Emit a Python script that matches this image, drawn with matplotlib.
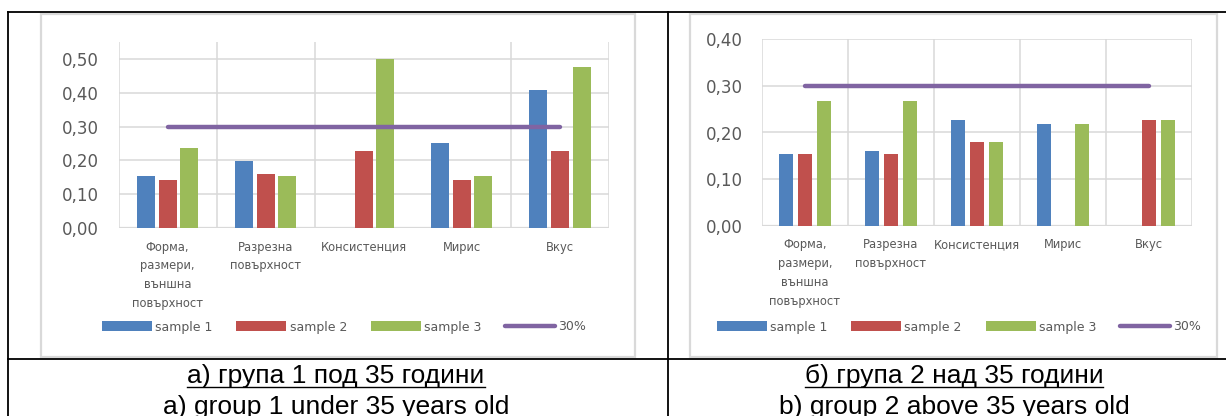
import numpy as np
import matplotlib
matplotlib.use("Agg")
import matplotlib.pyplot as plt
from matplotlib.patches import Rectangle
from matplotlib.lines import Line2D

W, H = 1226, 416

# категории и стойности
categories = ["Форма,\nразмери,\nвъншна\nповърхност", "Разрезна\nповърхност",
              "Консистенция", "Мирис", "Вкус"]
series_names = ["sample 1", "sample 2", "sample 3"]
threshold = 0.30

g1_sample1 = [0.154, 0.198, 0.0, 0.251, 0.408]
g1_sample2 = [0.142, 0.160, 0.228, 0.142, 0.228]
g1_sample3 = [0.237, 0.154, 0.500, 0.154, 0.476]

g2_sample1 = [0.154, 0.160, 0.227, 0.218, 0.0]
g2_sample2 = [0.154, 0.154, 0.180, 0.0, 0.227]
g2_sample3 = [0.267, 0.267, 0.180, 0.218, 0.227]

captions_bg = ["а) група 1 под 35 години", "б) група 2 над 35 години"]
captions_en = ["a) group 1 under 35 years old", "b) group 2 above 35 years old"]

colors = ["#4F81BD", "#C0504D", "#9BBB59"]
purple = "#8064A2"
grid_c = "#D9D9D9"
txt_c = "#595959"


def px(x0, y0, x1, y1):
    return [x0 / W, 1 - y1 / H, (x1 - x0) / W, (y1 - y0) / H]


def draw_chart(ax, data, ymax, yticks, bw, off, skip_vlines=()):
    x = np.arange(len(categories))
    for i, vals in enumerate(data):
        ax.bar(x + (i - 1) * off, vals, bw, color=colors[i], label=series_names[i], zorder=3)
    ax.plot([x[0], x[-1]], [threshold] * 2, color=purple, lw=3.2,
            solid_capstyle="round", label="30%", zorder=4)
    ax.set_xlim(-0.5, len(categories) - 0.5)
    ax.set_ylim(0, ymax)
    ax.set_yticks(yticks)
    ax.set_yticklabels([f"{t:.2f}".replace(".", ",") for t in yticks],
                       fontsize=12, color=txt_c)
    ax.set_xticks(x)
    ax.set_xticklabels(categories, fontsize=8.3, color=txt_c, linespacing=1.6,
                       va="top")
    ax.tick_params(length=0, axis="both")
    ax.tick_params(axis="x", pad=9)
    ax.tick_params(axis="y", pad=14)
    for t in yticks:
        ax.axhline(t, color=grid_c, lw=1.1, zorder=1)
    for b in np.arange(-0.5, len(categories)):
        if b in skip_vlines:
            continue
        ax.axvline(b, color=grid_c, lw=1.1, zorder=1)
    for s in ax.spines.values():
        s.set_visible(False)
    ax.axhline(0, color=grid_c, lw=1.6, zorder=2)


fig = plt.figure(figsize=(W / 100, H / 100), dpi=100)
plt.rcParams["font.family"] = ["DejaVu Sans"]

# рамки на диаграмите
fig.patches.append(Rectangle((41 / W, 1 - 357 / H), (635 - 41) / W, (357 - 14) / H,
                             transform=fig.transFigure, fill=False, ec=grid_c, lw=1.6))
fig.patches.append(Rectangle((690 / W, 1 - 357 / H), (1217 - 690) / W, (357 - 14) / H,
                             transform=fig.transFigure, fill=False, ec=grid_c, lw=1.6))

ax1 = fig.add_axes(px(118.5, 42, 609, 228))
draw_chart(ax1, [g1_sample1, g1_sample2, g1_sample3], 0.55,
           [0.0, 0.1, 0.2, 0.3, 0.4, 0.5], 0.184, 0.22, skip_vlines=(2.5,))

ax2 = fig.add_axes(px(762, 39, 1192, 226))
draw_chart(ax2, [g2_sample1, g2_sample2, g2_sample3], 0.40,
           [0.0, 0.1, 0.2, 0.3, 0.4], 0.17, 0.22)

# легенди
for ax, cx in [(ax1, 344 / W), (ax2, 959 / W)]:
    h, l = ax.get_legend_handles_labels()
    order = [1, 2, 3, 0]
    leg = fig.legend([h[i] for i in order], [l[i] for i in order], loc="center",
                     bbox_to_anchor=(cx, 1 - 327 / H), ncol=4, frameon=False,
                     fontsize=9, handlelength=4.0, handleheight=0.8,
                     handletextpad=0.25, columnspacing=1.9)
    for t in leg.get_texts():
        t.set_color(txt_c)

# таблица
blk = dict(color="black", lw=1.3, transform=fig.transFigure)
fig.lines += [
    Line2D([8 / W, 1], [1 - 12 / H] * 2, **blk),
    Line2D([8 / W, 1], [1 - 359 / H] * 2, **blk),
    Line2D([8 / W] * 2, [0, 1 - 12 / H], **blk),
    Line2D([668 / W] * 2, [0, 1 - 12 / H], **blk),
]

# надписи
cap_font = dict(family="Liberation Sans", fontsize=19, ha="center", va="baseline")
fig.canvas.draw()
renderer = fig.canvas.get_renderer()
for cx, bg, en in [(336, captions_bg[0], captions_en[0]), (954, captions_bg[1], captions_en[1])]:
    t = fig.text(cx / W, 1 - 383 / H, bg, **cap_font)
    fig.text(cx / W, 1 - 414 / H, en, **cap_font)
    bb = t.get_window_extent(renderer).transformed(fig.transFigure.inverted())
    fig.lines.append(Line2D([bb.x0, bb.x1], [1 - 387 / H] * 2, color="black", lw=1.0,
                            transform=fig.transFigure))

fig.savefig("out.png", dpi=100)
